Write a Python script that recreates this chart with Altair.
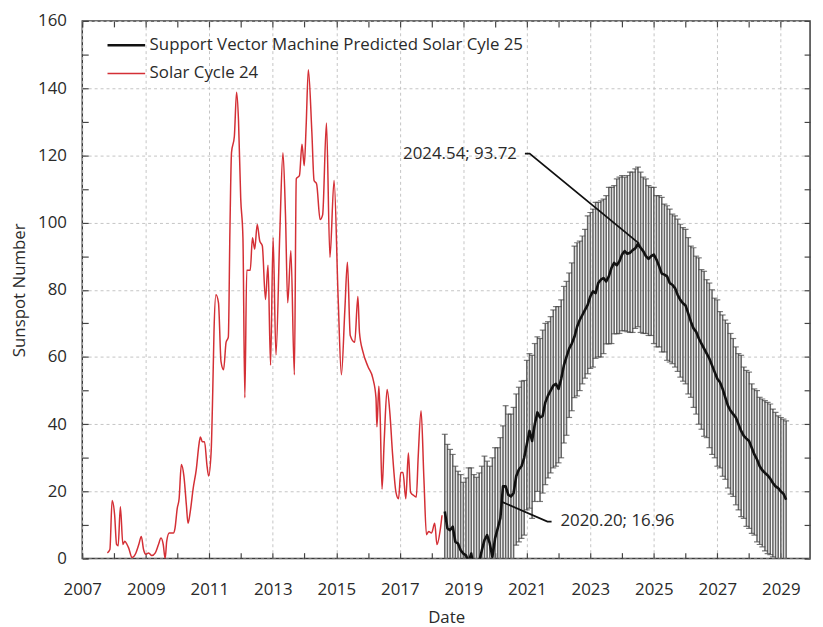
import altair as alt
import pandas as pd

# ---------------- data ----------------
# Solar Cycle 24 (observed, red)
sc24_year = [2007.79, 2007.87, 2007.94, 2008.02, 2008.08, 2008.13, 2008.20, 2008.28, 2008.34, 2008.41,
             2008.46, 2008.57, 2008.67, 2008.78, 2008.86, 2008.93, 2009.00, 2009.09, 2009.19, 2009.30,
             2009.40, 2009.48, 2009.55, 2009.61, 2009.66, 2009.74, 2009.87, 2009.92, 2009.99, 2010.05,
             2010.12, 2010.20, 2010.28, 2010.33, 2010.40, 2010.49, 2010.59, 2010.68, 2010.72, 2010.78,
             2010.85, 2010.93, 2010.98, 2011.06, 2011.11, 2011.15, 2011.21, 2011.29, 2011.37, 2011.45,
             2011.53, 2011.60, 2011.65, 2011.70, 2011.79, 2011.86, 2011.92, 2011.99, 2012.06, 2012.12,
             2012.18, 2012.29, 2012.36, 2012.43, 2012.51, 2012.59, 2012.67, 2012.77, 2012.85, 2012.93,
             2013.01, 2013.10, 2013.22, 2013.32, 2013.40, 2013.47, 2013.57, 2013.68, 2013.74, 2013.84,
             2013.92, 2013.99, 2014.05, 2014.12, 2014.23, 2014.30, 2014.38, 2014.49, 2014.57, 2014.69,
             2014.80, 2014.93, 2015.06, 2015.16, 2015.27, 2015.35, 2015.44, 2015.58, 2015.68, 2015.73,
             2015.84, 2016.00, 2016.15, 2016.25, 2016.28, 2016.34, 2016.38, 2016.44, 2016.51, 2016.60,
             2016.69, 2016.77, 2016.88, 2016.96, 2017.03, 2017.10, 2017.19, 2017.27, 2017.34, 2017.45,
             2017.52, 2017.58, 2017.67, 2017.76, 2017.84, 2017.91, 2018.00, 2018.10, 2018.17, 2018.28,
             2018.33]
sc24_value = [1.7, 2.7, 17.3, 12.9, 4.2, 3.8, 15.4, 4.2, 5.2, 4.2,
              3.2, 0.3, 1.3, 4.2, 6.6, 2.7, 1.3, 1.7, 0.9, 1.7,
              4.2, 6.1, 4.2, 0.0, 5.2, 7.6, 7.6, 9.0, 14.9, 17.8,
              28.0, 24.6, 15.8, 10.5, 13.9, 20.7, 26.5, 34.3, 36.2, 34.8,
              34.8, 27.5, 24.6, 32.0, 50.0, 68.0, 78.5, 76.1, 58.6, 56.2,
              64.4, 65.9, 97.5, 120.8, 125.7, 138.8, 130.5, 107.2, 95.5, 47.9,
              85.8, 85.8, 95.5, 92.1, 99.4, 94.5, 93.1, 77.1, 87.3, 57.6,
              95.5, 60.6, 96.5, 120.8, 102.3, 76.1, 91.6, 54.7, 113.0, 114.0,
              123.3, 116.9, 128.6, 145.5, 127.0, 112.5, 111.5, 100.9, 102.3, 129.6,
              89.7, 112.5, 77.1, 54.7, 74.1, 88.2, 66.4, 64.4, 78.0, 67.3,
              61.5, 57.1, 53.7, 47.9, 39.2, 51.3, 43.0, 20.7, 35.3, 50.3,
              43.0, 31.4, 19.7, 17.8, 25.6, 25.6, 17.8, 31.4, 19.7, 18.7,
              18.3, 30.4, 44.0, 23.6, 7.1, 8.1, 7.6, 10.5, 4.2, 9.0,
              12.9]

# Predicted Solar Cycle 25 (black), monthly values starting mid 2018
pred_start = 2018 + 5 / 12
pred_mean = [14, 9, 8.5, 9.5, 5, 4.5, 2.5,
             1.5, 1.0, -1, 1.5, -3, -4, -1, 2.5, 5.5, 7, 4.5, 0.5,
             6, 9, 12, 21.5, 21.5, 19, 18.5, 19.5, 24.5, 26.5, 27.5, 30,
             34, 38, 35, 40, 43.5, 42, 42.5, 46.5, 48.5, 50, 51.5, 52,
             50.5, 53.5, 57.5, 60, 62.5, 64, 66, 69, 71, 72.5, 74, 75.5,
             78, 79.5, 79, 82, 83, 83.5, 82.5, 84, 86.5, 88, 87.3, 88.5,
             90.5, 91.5, 90.7, 91, 91.8, 92.3, 93.7, 92.5, 91.5, 90, 89.2, 90,
             90.5, 89, 87, 84.8, 84.5, 84, 82, 81.5, 80.5, 78.5, 77, 76,
             75.3, 73, 70.5, 68.5, 67.5, 65.5, 64, 62.5, 61, 59.5, 57.5, 55.5,
             53.5, 52.5, 50.5, 48, 45.5, 44, 43, 42, 40, 38, 36.5, 35.7,
             35, 33, 31, 29.5, 27.5, 26.3, 25.5, 24.8, 23.8, 22.5, 21.5, 21,
             20, 19.3, 17.5]
pred_upper = [37, 34, 32.5, 31, 27.5, 26, 25,
              22.7, 24, 27, 27, 25, 24.2, 25.5, 27.5, 30.5, 29, 27.5, 30,
              33, 33, 36, 39.5, 45.5, 43, 43, 45, 49, 51, 52.8, 53,
              59, 61, 60.5, 64, 66, 65.5, 68, 70, 70.5, 72, 74, 75,
              75, 77, 81, 82.5, 85, 88, 93, 94, 94.5, 96, 98, 102,
              103, 104, 106, 106, 106.5, 107, 108, 110.5, 110.5, 111, 113, 113.5,
              114, 113.5, 114, 115, 115, 116, 116.5, 115, 113.5, 113, 111, 110.5,
              110.5, 108, 108, 107.5, 105.5, 105, 104, 102.5, 102, 101, 99.5, 98.5,
              98, 95.5, 93, 92.5, 90, 89.5, 86, 85.5, 83, 82, 80, 77.5,
              77, 73.5, 72.5, 71, 70, 67, 65.5, 63, 61, 60.5, 57, 56,
              55.5, 52, 50.5, 50, 48, 47.5, 47, 46.5, 46, 44.5, 43.5, 42.5,
              42, 41.5, 41]
pred_lower = [-10, -15, -15.5, -14.5, -19, -19.5, -21.5,
              -22.5, -23, -25, -22.5, -27, -28, -25, -21.5, -18.5, -17, -19.5, -23.5,
              -18, -15, -12, -2.5, -2.5, -5, -5.5, -4.5, 4, 5, 6, 7,
              14.5, 15, 12, 17, 20, 17, 19.5, 22, 24, 25.5, 27, 27.5,
              28.5, 30, 34.4, 36.7, 42, 44, 47.9, 48.4, 50, 52, 53.7, 55,
              56.6, 57, 59.6, 60, 60, 61, 63.9, 63.9, 64, 66.9, 66.9, 67,
              67.8, 67.8, 67.5, 67.3, 67.3, 68.5, 69, 67.3, 67, 67, 66.4, 66.4,
              64, 63, 63, 61.5, 61.5, 59, 58.5, 58, 57, 55.7, 54, 52.8,
              52, 49, 48, 45, 43, 40, 38.5, 36.4, 36, 33, 31, 30,
              27.5, 27, 24.5, 23.6, 21, 19.2, 18.5, 16, 14.5, 12.5, 12, 9.6,
              9, 7.5, 7, 5, 4.2, 3.5, 2.3, 1.5, 1.2, 0.5, -1, -2,
              -3, -4, -5]

series_names = ["Support Vector Machine Predicted Solar Cyle 25", "Solar Cycle 24"]
series_colors = ["#111111", "#d42f35"]
series_widths = [2.6, 1.5]

x_ticks = list(range(2007, 2030))
y_ticks = list(range(0, 161, 10))
x_domain = [2007, 2029.92]
y_domain = [0, 160]

# annotations
peak_label = ["2024.54; 93.72"]
peak_text_x = [2020.69]
peak_text_y = [120.5]
start_label = ["2020.20; 16.96"]
start_text_x = [2022.06]
start_text_y = [11.1]
leader_group = ["peak", "peak", "peak", "start", "start", "start"]
leader_x = [2020.94, 2021.09, 2024.54, 2020.20, 2021.65, 2021.78]
leader_y = [120.5, 120.5, 93.72, 16.96, 11.0, 11.0]

# ---------------- build tables ----------------
pred_year = [round(pred_start + i / 12, 4) for i in range(len(pred_mean))]
err_df = pd.DataFrame({"year": pred_year, "lower": pred_lower, "upper": pred_upper})
caps_df = pd.DataFrame({"year": pred_year + pred_year, "cap": pred_upper + pred_lower})
sc24_df = pd.DataFrame({"year": sc24_year, "value": sc24_value, "series": series_names[1]})
pred_df = pd.DataFrame({"year": pred_year, "value": pred_mean, "series": series_names[0]})
leader_df = pd.DataFrame({"g": leader_group, "year": leader_x, "value": leader_y,
                          "k": list(range(len(leader_x)))})
peak_df = pd.DataFrame({"year": peak_text_x, "value": peak_text_y, "t": peak_label})
start_df = pd.DataFrame({"year": start_text_x, "value": start_text_y, "t": start_label})

FONT = "Open Sans"
TXT = "#2a2a2a"
xs = alt.Scale(domain=x_domain, nice=False, zero=False)
ys = alt.Scale(domain=y_domain, nice=False, zero=False)

bottom_axis = alt.Axis(
    values=x_ticks, format="d", labelExpr="datum.value % 2 == 1 ? datum.label : ''",
    labelOverlap=False, labelFlush=False, tickSize=6, offset=-6, domain=False,
    labelPadding=23, title="Date", titlePadding=13, grid=True,
    gridOpacity={"condition": {"test": "datum.value % 2 == 1", "value": 1}, "value": 0},
)
left_axis = alt.Axis(
    values=y_ticks, format="d", labelExpr="datum.value % 20 == 0 ? datum.label : ''",
    labelOverlap=False, labelFlush=False, tickSize=6, offset=-6, domain=False,
    labelPadding=16, title="Sunspot Number", titlePadding=9, grid=True,
    gridOpacity={"condition": {"test": "datum.value % 20 == 0", "value": 1}, "value": 0},
)
top_axis = alt.Axis(orient="top", values=x_ticks, labels=False, grid=False, domain=False,
                    tickSize=6, offset=-6, title=None)
right_axis = alt.Axis(orient="right", values=y_ticks, labels=False, grid=False, domain=False,
                      tickSize=6, offset=-6, title=None)

color_enc = alt.Color("series:N", scale=alt.Scale(domain=series_names, range=series_colors),
                      legend=alt.Legend(title=None))
width_enc = alt.StrokeWidth("series:N",
                            scale=alt.Scale(domain=series_names, range=series_widths),
                            legend=alt.Legend(title=None))

err = alt.Chart(err_df).mark_rule(color="#666666", strokeWidth=1.6, clip=True).encode(
    x=alt.X("year:Q", scale=xs, axis=bottom_axis),
    y=alt.Y("lower:Q", scale=ys, axis=left_axis),
    y2="upper:Q",
)
caps = alt.Chart(caps_df).mark_tick(orient="horizontal", size=6, thickness=1.2,
                                    color="#444444", clip=True).encode(
    x=alt.X("year:Q", scale=xs, axis=top_axis),
    y=alt.Y("cap:Q", scale=ys, axis=right_axis),
)
red_line = alt.Chart(sc24_df).mark_line(interpolate="monotone", clip=True).encode(
    x=alt.X("year:Q", scale=xs, axis=None),
    y=alt.Y("value:Q", scale=ys, axis=None),
    color=color_enc,
    strokeWidth=width_enc,
)
black_line = alt.Chart(pred_df).mark_line(interpolate="linear", clip=True,
                                          strokeJoin="round").encode(
    x=alt.X("year:Q", scale=xs, axis=None),
    y=alt.Y("value:Q", scale=ys, axis=None),
    color=color_enc,
    strokeWidth=width_enc,
)
leaders = alt.Chart(leader_df).mark_line(color="#111111", strokeWidth=1.8, clip=True).encode(
    x=alt.X("year:Q", scale=xs, axis=None),
    y=alt.Y("value:Q", scale=ys, axis=None),
    detail="g:N",
    order="k:Q",
)
peak_txt = alt.Chart(peak_df).mark_text(align="right", baseline="middle", font=FONT,
                                        fontSize=17, color=TXT).encode(
    x=alt.X("year:Q", scale=xs, axis=None),
    y=alt.Y("value:Q", scale=ys, axis=None),
    text="t:N",
)
start_txt = alt.Chart(start_df).mark_text(align="left", baseline="middle", font=FONT,
                                          fontSize=17, color=TXT).encode(
    x=alt.X("year:Q", scale=xs, axis=None),
    y=alt.Y("value:Q", scale=ys, axis=None),
    text="t:N",
)

chart = (
    alt.layer(err, caps, red_line, black_line, leaders, peak_txt, start_txt)
    .resolve_axis(x="independent", y="independent")
    .properties(width=735, height=543,
                autosize=alt.AutoSizeParams(type="none"),
                padding={"left": 75, "top": 10, "right": 5, "bottom": 66})
    .configure(font=FONT)
    .configure_view(stroke="#3a3a3a", strokeWidth=1.5)
    .configure_axis(labelFont=FONT, titleFont=FONT, labelFontSize=17, titleFontSize=17,
                    labelColor=TXT, titleColor=TXT, titleFontWeight="normal",
                    tickColor="#444444", tickWidth=1.2,
                    gridColor="#c4c4c4", gridDash=[3, 3], gridWidth=1)
    .configure_legend(orient="none", legendX=24, legendY=4, symbolType="stroke",
                      symbolSize=1444, labelFontSize=17, labelFont=FONT, labelColor=TXT,
                      labelOffset=3, rowPadding=-17, padding=0, labelLimit=0)
)

chart.save("out.html", embed_options={"renderer": "svg", "actions": False})
